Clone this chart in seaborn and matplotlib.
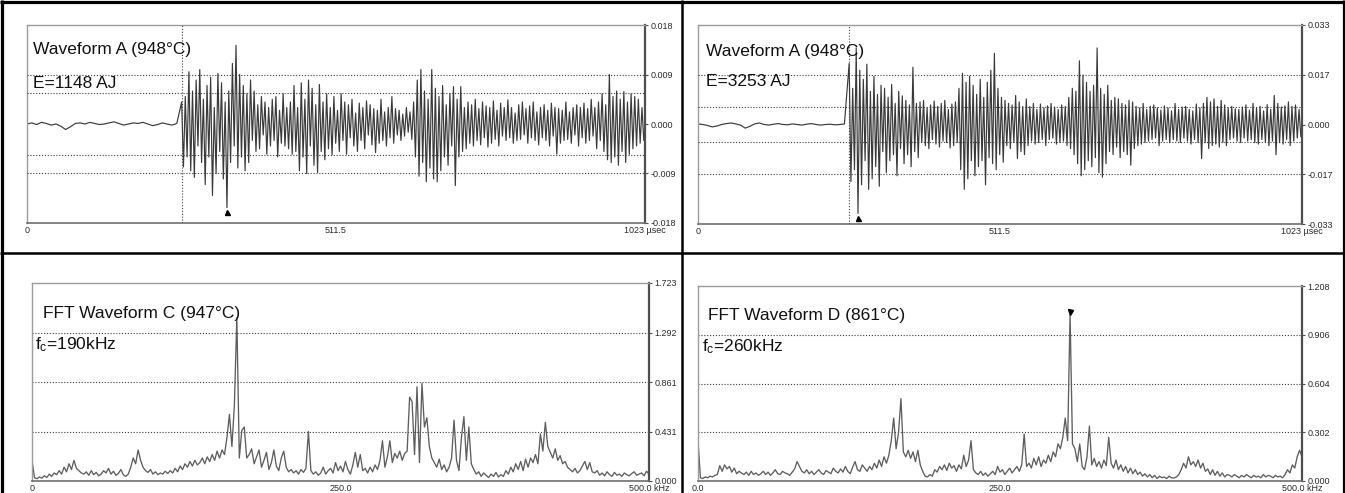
import numpy as np
import matplotlib
matplotlib.use("Agg")
import matplotlib.pyplot as plt
import matplotlib.transforms as mtransforms
from matplotlib.lines import Line2D
from matplotlib import font_manager
import seaborn as sns

# ------------------------------------------------------------------ data
# Waveform panels: amplitude in units of 1e-4 V.
# Pre-trigger part sampled every 8 us from 0 us, post-trigger every 3 us from the trigger.
trigger_us = 256
pre_step_us = 8
post_step_us = 3

wave_a_pre = [0, 2, -1, 3, 1, -2, 0, -4, -10, -5, 1, 2, 0, 3, 1, -1,
              0, 2, 4, 1, -2, 0, 2, 1, 3, 0, -3, -1, 2, 0, -2, 1]
wave_a_post = [
    40, -78, 50, -60, 95, -85, 60, -97, 80, -40,
    99, -70, 45, -110, 70, -60, 85, -130, 30, -90,
    92, -50, 75, -100, 40, -152, 60, -70, 110, -40,
    143, -80, 90, -60, 70, -85, 55, -70, 80, -30,
    60, -50, 35, -45, 50, -20, 40, -55, 30, -40,
    45, -30, 50, -60, 25, -35, 55, -40, 30, -45,
    40, -55, 70, -50, 30, -85, 75, -60, 45, -90,
    80, -40, 65, -75, 35, -88, 72, -50, 40, -65,
    55, -45, 30, -56, 50, -35, 25, -50, 55, -30,
    40, -55, 35, -25, 45, -40, 20, -50, 38, -30,
    30, -45, 42, -20, 35, -38, 28, -52, 25, -35,
    45, -30, 22, -40, 30, -25, 50, -35, 28, -20,
    25, -30, 18, -22, 30, -15, 22, -28, 40, -60,
    80, -95, 99, -70, 60, -105, 45, -80, 99, -100,
    65, -105, 50, -85, 70, -60, 35, -75, 55, -40,
    68, -112, 45, -60, 68, -50, 30, -45, 40, -35,
    35, -40, 45, -30, 28, -38, 40, -25, 33, -42,
    30, -35, 42, -28, 25, -40, 38, -22, 30, -30,
    44, -25, 30, -35, 20, -30, 35, -28, 40, -20,
    28, -35, 33, -25, 40, -30, 22, -38, 30, -25,
    35, -30, 25, -40, 38, -22, 30, -55, 28, -35,
    25, -30, 40, -28, 22, -35, 30, -20, 35, -40,
    30, -25, 38, -35, 28, -30, 45, -22, 30, -45,
    40, -30, 55, -50, 35, -65, 90, -70, 50, -60,
    60, -75, 45, -50, 59, -70, 40, -55, 55, -45,
    50, -40, 45, -35, 30, -30]

wave_b_pre = [2, 0, -3, -8, -5, 0, 3, 5, 2, -2, -12, -6, 2, 5, 0, -2,
              1, 3, 0, -1, 2, 0, -2, 1, 3, 0, -2, 0, 1, -1, 0, 2]
wave_b_post = [
    202, -190, 120, -150, 254, -295, 180, -200, 150, -120,
    200, -215, 110, -180, 160, -140, 100, -205, 130, -90,
    120, -160, 90, -120, 133, -100, 70, -170, 110, -80,
    95, -130, 80, -100, 65, -140, 190, -90, 70, -110,
    75, -60, 80, -70, 55, -80, 65, -50, 78, -65,
    60, -75, 70, -55, 80, -60, 50, -78, 68, -70,
    75, -60, 120, -150, 170, -215, 140, -180, 160, -120,
    130, -170, 100, -140, 150, -120, 90, -200, 140, -110,
    180, -130, 236, -150, 120, -100, 90, -125, 80, -70,
    70, -80, 65, -60, 96, -113, 75, -90, 60, -100,
    85, -70, 60, -55, 70, -65, 50, -60, 68, -50,
    55, -70, 62, -50, 70, -45, 58, -65, 50, -60,
    65, -55, 60, -70, 90, -80, 120, -100, 110, -130,
    211, -170, 164, -150, 140, -120, 110, -140, 130, -110,
    254, -160, 120, -175, 100, -130, 130, -90, 80, -100,
    90, -75, 85, -110, 70, -90, 65, -100, 80, -135,
    75, -80, 60, -70, 55, -65, 70, -60, 50, -55,
    60, -50, 65, -45, 55, -70, 48, -55, 62, -50,
    55, -60, 45, -50, 70, -55, 50, -60, 58, -45,
    60, -55, 50, -65, 45, -50, 68, -60, 55, -113,
    70, -60, 90, -80, 75, -70, 85, -65, 60, -75,
    80, -60, 65, -70, 55, -50, 60, -45, 52, -55,
    50, -60, 58, -45, 65, -55, 48, -50, 70, -60,
    55, -65, 60, -50, 45, -58, 66, -70, 50, -55,
    96, -100, 70, -60, 58, -65, 62, -50, 75, -70,
    60, -55, 65, -45, 50, -40]

# FFT panels: magnitude in units of 1e-3, one value every 2 kHz from 0 to 500 kHz.
fft_step_khz = 2
fft_c = [
    180, 30, 20, 35, 25, 45, 30, 60, 40, 70,
    55, 90, 60, 120, 80, 150, 100, 180, 110, 90,
    70, 60, 80, 50, 90, 55, 75, 45, 60, 90,
    70, 110, 60, 85, 50, 65, 100, 55, 40, 60,
    120, 200, 150, 270, 180, 120, 90, 75, 100, 60,
    80, 55, 70, 60, 85, 65, 90, 70, 110, 80,
    130, 100, 150, 120, 170, 130, 180, 140, 160, 200,
    150, 210, 170, 230, 180, 260, 200, 270, 230, 380,
    580, 300, 660, 1420, 200, 440, 470, 200, 230, 280,
    150, 210, 270, 120, 180, 250, 100, 160, 270, 130,
    90, 200, 260, 120, 80, 100, 70, 90, 60, 100,
    75, 110, 430, 90, 60, 80, 50, 70, 120, 60,
    90, 110, 70, 160, 90, 130, 80, 170, 100, 60,
    140, 250, 120, 230, 90, 110, 70, 120, 80, 140,
    100, 180, 350, 120, 210, 350, 160, 240, 200, 260,
    180, 240, 260, 730, 690, 230, 820, 160, 850, 470,
    550, 300, 200, 160, 120, 190, 100, 140, 80, 120,
    200, 530, 180, 90, 380, 560, 180, 470, 150, 100,
    60, 80, 40, 70, 50, 30, 60, 40, 75, 35,
    55, 40, 90, 60, 120, 80, 150, 100, 170, 90,
    190, 120, 200, 160, 230, 150, 410, 260, 510, 300,
    250, 200, 280, 180, 220, 150, 170, 120, 100, 80,
    110, 70, 90, 130, 170, 100, 160, 80, 70, 90,
    50, 70, 45, 80, 55, 40, 75, 50, 60, 40,
    70, 55, 45, 65, 80, 50, 60, 70, 45, 85,
    60]

fft_d = [
    250, 20, 15, 25, 20, 30, 25, 35, 40, 95,
    60, 100, 75, 90, 55, 80, 45, 60, 50, 40,
    55, 35, 60, 40, 50, 35, 45, 60, 40, 55,
    35, 50, 70, 45, 40, 60, 50, 45, 35, 55,
    75, 120, 90, 60, 50, 70, 45, 60, 40, 55,
    70, 50, 40, 65, 55, 45, 80, 60, 50, 75,
    55, 90, 60, 45, 85, 120, 70, 60, 100, 80,
    60, 90, 70, 110, 80, 130, 90, 150, 110, 160,
    250, 390, 200, 300, 510, 180, 150, 190, 140, 180,
    120, 190, 100, 60, 30, 25, 40, 30, 70, 55,
    90, 70, 100, 65, 110, 80, 95, 60, 100, 75,
    160, 90, 130, 250, 70, 50, 40, 60, 35, 50,
    30, 45, 60, 40, 90, 55, 70, 40, 60, 80,
    50, 70, 90, 60, 100, 290, 90, 110, 80, 140,
    100, 150, 90, 130, 110, 160, 120, 180, 150, 230,
    200, 270, 390, 250, 1030, 230, 200, 120, 230, 90,
    70, 150, 340, 100, 140, 90, 120, 80, 130, 95,
    270, 110, 80, 130, 70, 100, 60, 90, 50, 80,
    45, 70, 40, 55, 30, 45, 25, 40, 20, 35,
    15, 30, 20, 25, 15, 30, 20, 18, 25, 40,
    70, 110, 80, 150, 100, 120, 90, 130, 80, 110,
    60, 75, 40, 70, 35, 60, 30, 50, 25, 40,
    35, 25, 40, 30, 20, 35, 25, 40, 30, 20,
    35, 25, 30, 20, 40, 25, 35, 30, 20, 35,
    25, 30, 20, 40, 70, 50, 100, 80, 150, 190,
    150]

wave_time_max = 1023
fft_freq_max = 500
wave_a_limit = 0.018
wave_b_limit = 0.033
fft_c_max = 1.723
fft_d_max = 1.208
threshold_v = 0.0057

wave_a_yticklabels = ["0.018", "0.009", "0.000", "-0.009", "-0.018"]
wave_b_yticklabels = ["0.033", "0.017", "0.000", "-0.017", "-0.033"]
fft_c_yticklabels = ["1.723", "1.292", "0.861", "0.431", "0.000"]
fft_d_yticklabels = ["1.208", "0.906", "0.604", "0.302", "0.000"]
wave_xticklabels = ["0", "511.5", "1023 µsec"]
fft_c_xticklabels = ["0", "250.0", "500.0 kHz"]
fft_d_xticklabels = ["0.0", "250.0", "500.0 kHz"]

wave_a_texts = ["Waveform A (948°C)", "E=1148 AJ"]
wave_b_texts = ["Waveform A (948°C)", "E=3253 AJ"]
fft_c_texts = ["FFT Waveform C (947°C)", r"f$_{\mathregular{c}}$=190kHz"]
fft_d_texts = ["FFT Waveform D (861°C)", r"f$_{\mathregular{c}}$=260kHz"]

# ------------------------------------------------------------------ style
sns.set_style("white")
plt.rcParams["font.family"] = ["Liberation Sans", "DejaVu Sans"]
plt.rcParams["mathtext.default"] = "regular"
_names = {f.name for f in font_manager.fontManager.ttflist}
TICK_FAMILY = "Liberation Sans Narrow" if "Liberation Sans Narrow" in _names else "Liberation Sans"
TICK_SIZE = 6.5
TEXT_SIZE = 12.5
DOT = (0, (1, 1.6))
GRID_COLOR = "#3c3c3c"

W, H = 1345, 493
fig = plt.figure(figsize=(W / 100, H / 100), dpi=100)
fig.patch.set_facecolor("white")


def px_axes(x0, x1, ytop, ybot):
    return fig.add_axes([x0 / W, 1 - ybot / H, (x1 - x0) / W, (ybot - ytop) / H])


def style_axes(ax):
    ax.set_facecolor("white")
    for s in ("top", "left"):
        ax.spines[s].set_color("#9c9c9c")
        ax.spines[s].set_linewidth(1.0)
    ax.spines["right"].set_color("#4e4e4e")
    ax.spines["right"].set_linewidth(1.6)
    ax.spines["bottom"].set_color("#6e6e6e")
    ax.spines["bottom"].set_linewidth(1.2)
    ax.yaxis.tick_right()
    ax.tick_params(axis="y", length=2.5, width=0.8, color="#4e4e4e", pad=1.5,
                   labelsize=TICK_SIZE, labelcolor="#2a2a2a")
    ax.tick_params(axis="x", length=0, pad=2.5, labelsize=TICK_SIZE,
                   labelcolor="#2a2a2a")
    ax.set_xlabel("")
    ax.set_ylabel("")


def add_texts(ax, texts, x1, y1, x2, y2):
    ax.text(x1, y1, texts[0], transform=ax.transAxes, fontsize=TEXT_SIZE,
            color="#111111", ha="left", va="baseline", zorder=5)
    ax.text(x2, y2, texts[1], transform=ax.transAxes, fontsize=TEXT_SIZE,
            color="#111111", ha="left", va="baseline", zorder=5)


def draw_wave(ax, pre, post, limit, yticklabels, texts, text_pos):
    t = np.concatenate([np.arange(len(pre)) * pre_step_us,
                        trigger_us + np.arange(len(post)) * post_step_us])
    v = np.concatenate([pre, post]) * 1e-4
    for y in (limit / 2, -limit / 2, threshold_v, -threshold_v):
        ax.axhline(y, ls=DOT, lw=0.8, color=GRID_COLOR, zorder=3)
    ax.axvline(trigger_us, ls=DOT, lw=0.8, color=GRID_COLOR, zorder=3)
    sns.lineplot(x=t, y=v, ax=ax, color="#3a3a3a", linewidth=0.85,
                 estimator=None, sort=False, legend=False, zorder=2)
    i = int(np.argmin(v))
    off = mtransforms.ScaledTranslation(0, -4.5 / 100, fig.dpi_scale_trans)
    ax.plot([t[i]], [v[i]], marker="^", ms=3.6, color="black",
            transform=ax.transData + off, zorder=4, clip_on=False)
    ax.set_xlim(0, wave_time_max)
    ax.set_ylim(-limit, limit)
    style_axes(ax)
    ax.set_xticks([0, wave_time_max / 2, wave_time_max], labels=wave_xticklabels,
                  fontfamily=TICK_FAMILY)
    ax.set_yticks(np.linspace(limit, -limit, 5), labels=yticklabels,
                  fontfamily=TICK_FAMILY)
    add_texts(ax, texts, *text_pos)


def draw_fft(ax, vals, vmax, yticklabels, xticklabels, texts, text_pos, mark_peak):
    f = np.arange(len(vals)) * fft_step_khz
    v = np.asarray(vals) * 1e-3
    for frac in (0.25, 0.5, 0.75):
        ax.axhline(vmax * frac, ls=DOT, lw=0.8, color=GRID_COLOR, zorder=1)
    sns.lineplot(x=f, y=v, ax=ax, color="#5e5e5e", linewidth=0.95,
                 estimator=None, sort=False, legend=False, zorder=2)
    if mark_peak:
        i = int(np.argmax(v))
        off = mtransforms.ScaledTranslation(0, 2.5 / 100, fig.dpi_scale_trans)
        ax.plot([f[i]], [v[i]], marker="v", ms=3.6, color="black",
                transform=ax.transData + off, zorder=4)
    ax.set_xlim(0, fft_freq_max)
    ax.set_ylim(0, vmax)
    style_axes(ax)
    ax.set_xticks([0, fft_freq_max / 2, fft_freq_max], labels=xticklabels,
                  fontfamily=TICK_FAMILY)
    ax.set_yticks(np.linspace(vmax, 0, 5), labels=yticklabels,
                  fontfamily=TICK_FAMILY)
    add_texts(ax, texts, *text_pos)


ax_tl = px_axes(27, 645, 25, 223)
ax_tr = px_axes(698, 1302, 25, 224)
ax_bl = px_axes(32, 649, 283, 481)
ax_br = px_axes(698, 1302, 286, 481)

draw_wave(ax_tl, wave_a_pre, wave_a_post, wave_a_limit, wave_a_yticklabels,
          wave_a_texts, (0.010, 0.856, 0.010, 0.684))
draw_wave(ax_tr, wave_b_pre, wave_b_post, wave_b_limit, wave_b_yticklabels,
          wave_b_texts, (0.013, 0.842, 0.013, 0.691))
draw_fft(ax_bl, fft_c, fft_c_max, fft_c_yticklabels, fft_c_xticklabels,
         fft_c_texts, (0.018, 0.821, 0.005, 0.664), False)
draw_fft(ax_br, fft_d, fft_d_max, fft_d_yticklabels, fft_d_xticklabels,
         fft_d_texts, (0.017, 0.828, 0.007, 0.664), True)

# black panel frame and dividers
def fig_line(xs, ys, lw):
    fig.add_artist(Line2D(xs, ys, transform=fig.transFigure, color="black",
                          lw=lw, solid_capstyle="butt"))

fig_line([0, 1], [1 - 1.5 / H, 1 - 1.5 / H], 2.3)
fig_line([1.5 / W, 1.5 / W], [0, 1], 2.3)
fig_line([1 - 1.5 / W, 1 - 1.5 / W], [0, 1], 2.3)
fig_line([682 / W, 682 / W], [0, 1], 1.8)
fig_line([0, 1], [1 - 253 / H, 1 - 253 / H], 1.8)

fig.savefig("out.png", dpi=100, facecolor="white")
